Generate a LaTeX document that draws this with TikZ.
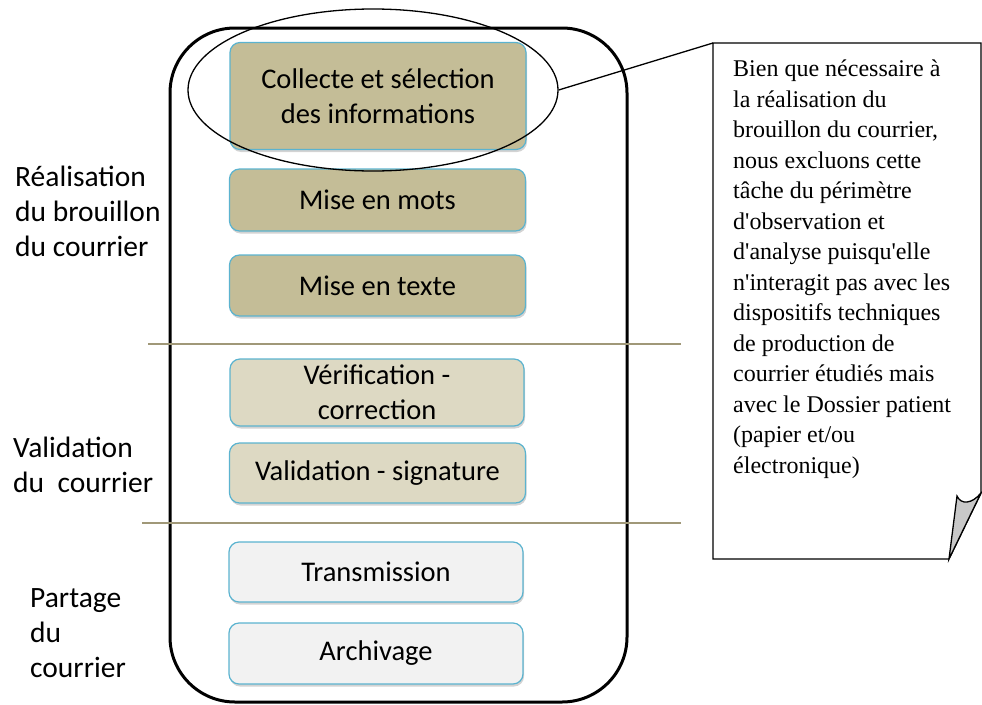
\documentclass[tikz,border=0pt]{standalone}
\usepackage{fontspec}
\setmainfont{Carlito}
\newfontfamily\timesf{Liberation Serif}
\usetikzlibrary{shapes.geometric,shadows}
\definecolor{tanD}{HTML}{C4BD97}
\definecolor{tanL}{HTML}{DDD9C3}
\definecolor{greyL}{HTML}{F2F2F2}
\definecolor{boxblue}{HTML}{5BB3CF}
\definecolor{sepcol}{HTML}{A09878}
\definecolor{foldcol}{HTML}{C8C8C8}
\begin{document}
\begin{tikzpicture}[x=1pt,y=-1pt,
  stepbox/.style={draw=boxblue, line width=1.2pt, rounded corners=10pt,
    minimum width=296pt, align=center, inner sep=0pt,
    font=\fontsize{28.5}{35}\selectfont,
    drop shadow={shadow xshift=1pt, shadow yshift=-2.5pt, opacity=0.35}},
  sidelabel/.style={anchor=north west, align=left, inner sep=0pt,
    font=\fontsize{29.5}{35}\selectfont},
  sepline/.style={draw=sepcol, line width=1.3pt},
  thinline/.style={line width=1.3pt}]
\useasboundingbox (0,0) rectangle (982,704);

% outer frame
\node[draw, line width=3pt, rounded corners=65pt, minimum width=457pt,
  minimum height=674pt, inner sep=0pt] (frame) at (398.5,365) {};

% separators
\draw[sepline] (148,344) -- (681,344);
\draw[sepline] (142,523) -- (681,523);

% steps
\node[stepbox, fill=tanD, minimum height=107pt] (collecte) at (378,96)
  {Collecte et sélection\\des informations};
\node[stepbox, fill=tanD, minimum height=62pt] (mots) at (377.5,200) {Mise en mots};
\node[stepbox, fill=tanD, minimum height=61pt] (texte) at (377.5,285.5) {Mise en texte};
\node[stepbox, fill=tanL, minimum width=294pt, minimum height=67pt] (verif) at (377,392.5)
  {Vérification -\\correction};
\node[stepbox, fill=tanL, minimum height=60pt] (valid) at (377.5,473) {Validation - signature};
\node[stepbox, fill=greyL, minimum width=294pt, minimum height=60pt] (trans) at (376,572) {Transmission};
\node[stepbox, fill=greyL, minimum width=294pt, minimum height=61pt] (archi) at (376,653.5) {Archivage};

% ellipse highlight
\node[draw, ellipse, thinline, minimum width=370pt, minimum height=162pt,
  inner sep=0pt] (ell) at (373,90) {};

% callout
\coordinate (ctl) at (713,43);
\coordinate (ctr) at (981,43);
\coordinate (cfr) at (981,493);
\coordinate (cfk) at (957,496);
\coordinate (cfb) at (949,559);
\coordinate (cbl) at (713,559);
\draw[thinline, fill=white] (ctl) -- (ctr) -- (cfr) -- (cfb) -- (cbl) -- cycle;
\draw[thinline, fill=foldcol] (cfk) .. controls (961,505) and (972,504) .. (cfr) -- (cfb) -- cycle;
\draw[thinline] (ell.east) -- (ctl);
\node[anchor=north west, align=left, inner sep=0pt,
  font=\timesf\fontsize{24}{30.5}\selectfont] (note) at (733,60)
  {Bien que nécessaire à\\la réalisation du\\brouillon du courrier,\\nous excluons cette\\tâche du périmètre\\d'observation et\\d'analyse puisqu'elle\\n'interagit pas avec les\\dispositifs techniques\\de production de\\courrier étudiés mais\\avec le Dossier patient\\(papier et/ou\\électronique)};

% side labels
\node[sidelabel] (lab1) at (15,166) {Réalisation\\du brouillon\\du courrier};
\node[sidelabel] (lab2) at (13,437) {Validation\\du\ \ courrier};
\node[sidelabel] (lab3) at (30,588) {Partage\\du\\courrier};
\end{tikzpicture}
\end{document}
